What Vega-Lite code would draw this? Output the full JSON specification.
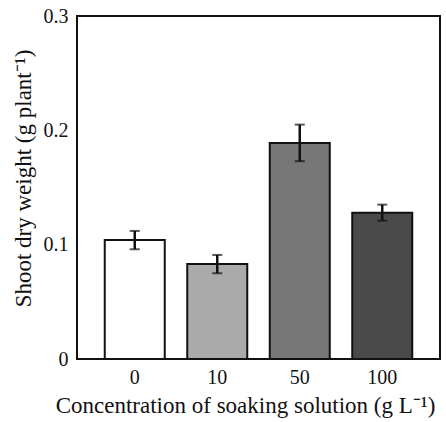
{
  "$schema": "https://vega.github.io/schema/vega-lite/v6.json",
  "width": 363,
  "height": 343,
  "autosize": {"type": "none"},
  "padding": {"left": 77, "top": 16, "right": 6, "bottom": 63},
  "config": {
    "view": {"stroke": "#111111", "strokeWidth": 2},
    "font": "Liberation Serif"
  },
  "data": {
    "values": [
      {"conc": "0", "weight": 0.104, "se": 0.008, "fill": "#ffffff"},
      {"conc": "10", "weight": 0.083, "se": 0.008, "fill": "#aaaaaa"},
      {"conc": "50", "weight": 0.189, "se": 0.016, "fill": "#777777"},
      {"conc": "100", "weight": 0.128, "se": 0.007, "fill": "#4a4a4a"}
    ]
  },
  "encoding": {
    "x": {
      "field": "conc",
      "type": "ordinal",
      "sort": null,
      "scale": {"paddingInner": 0, "paddingOuter": 0.2},
      "axis": {
        "title": "Concentration of soaking solution (g L⁻¹)",
        "labelAngle": 0,
        "ticks": false,
        "domain": false,
        "labelFontSize": 20,
        "labelColor": "#111111",
        "labelPadding": 8,
        "titleFontSize": 23,
        "titleFontWeight": "normal",
        "titleColor": "#111111",
        "titlePadding": 7,
        "titleX": 168
      }
    }
  },
  "layer": [
    {
      "mark": {"type": "bar", "size": 60, "stroke": "#111111", "strokeWidth": 2},
      "encoding": {
        "y": {
          "field": "weight",
          "type": "quantitative",
          "scale": {"domain": [0, 0.3], "nice": false},
          "axis": {
            "title": "Shoot dry weight (g plant⁻¹)",
            "values": [0, 0.1, 0.2, 0.3],
            "labelExpr": "datum.value == 0 ? '0' : format(datum.value, '.1f')",
            "grid": false,
            "ticks": false,
            "domain": false,
            "labelFontSize": 20,
            "labelColor": "#111111",
            "labelPadding": 9,
            "titleFontSize": 23,
            "titleFontWeight": "normal",
            "titleColor": "#111111",
            "titlePadding": 8,
            "titleY": 162
          }
        },
        "fill": {"field": "fill", "type": "nominal", "scale": null}
      }
    },
    {
      "transform": [
        {"calculate": "datum.weight - datum.se", "as": "lo"},
        {"calculate": "datum.weight + datum.se", "as": "hi"}
      ],
      "mark": {"type": "rule", "stroke": "#111111", "strokeWidth": 2.5},
      "encoding": {
        "y": {"field": "lo", "type": "quantitative"},
        "y2": {"field": "hi"}
      }
    },
    {
      "transform": [
        {"calculate": "datum.weight - datum.se", "as": "lo"}
      ],
      "mark": {"type": "tick", "size": 10, "thickness": 2, "color": "#111111", "orient": "horizontal"},
      "encoding": {
        "y": {"field": "lo", "type": "quantitative"}
      }
    },
    {
      "transform": [
        {"calculate": "datum.weight + datum.se", "as": "hi"}
      ],
      "mark": {"type": "tick", "size": 10, "thickness": 2, "color": "#111111", "orient": "horizontal"},
      "encoding": {
        "y": {"field": "hi", "type": "quantitative"}
      }
    }
  ]
}
